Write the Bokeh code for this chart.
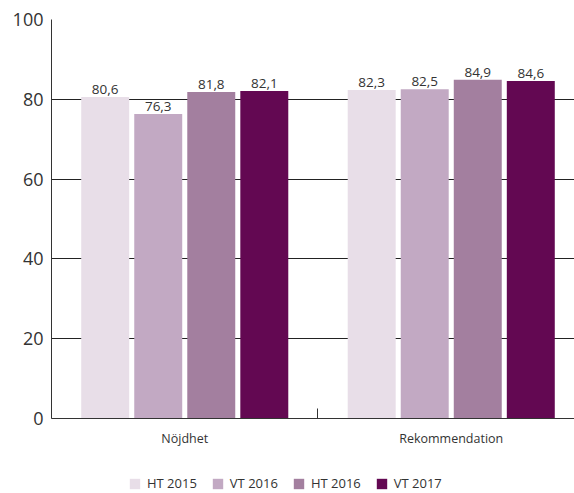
import numpy as np
from bokeh.plotting import figure
from bokeh.models import ColumnDataSource, Range1d, FixedTicker, Legend, LegendItem
from bokeh.embed import file_html
from bokeh.resources import INLINE
from bokeh.core.properties import value

# ---- data ----
categories = ["Nöjdhet", "Rekommendation"]
periods = ["HT 2015", "VT 2016", "HT 2016", "VT 2017"]
ht2015 = [80.6, 82.3]
vt2016 = [76.3, 82.5]
ht2016 = [81.8, 84.9]
vt2017 = [82.1, 84.6]
series = [ht2015, vt2016, ht2016, vt2017]
y_ticks = [0, 20, 40, 60, 80, 100]

# ---- style ----
bar_colors = ["#E8DEE8", "#C2A9C3", "#A37F9F", "#630852"]
FONT = "Open Sans"
TXT = "#333333"

H = 493
TOP = 19
ZERO_PX = 418                      # pixel row of value 0
px_per_unit = (ZERO_PX - TOP) / 100.0
y_start = -(H - ZERO_PX) / px_per_unit

p = figure(width=574, height=H, output_backend="svg", toolbar_location=None,
           x_range=Range1d(0, 1.9625), y_range=Range1d(y_start, 100),
           min_border_left=51, min_border_right=0, min_border_top=TOP,
           min_border_bottom=0)
p.outline_line_color = None
p.background_fill_color = "white"
p.border_fill_color = "white"

centers = np.arange(len(categories)) + 0.5
step = 0.199
bar_w = 0.18
items = []
for i, (name, vals) in enumerate(zip(periods, series)):
    off = (i - (len(periods) - 1) / 2) * step
    src = ColumnDataSource(dict(
        x=centers + off, top=vals,
        label=[f"{v:.1f}".replace(".", ",") for v in vals]))
    r = p.vbar(x="x", top="top", bottom=0, width=bar_w, source=src,
               fill_color=bar_colors[i], line_color=None)
    p.text(x="x", y="top", text="label", source=src, text_align="center",
           text_baseline="bottom", y_offset=-3, text_font=value(FONT),
           text_font_size="13.5px", text_color=TXT)
    items.append(LegendItem(label=name, renderers=[r]))

# ---- x axis (sits on value 0) ----
xa = p.xaxis[0]
xa.fixed_location = 0
xa.ticker = FixedTicker(ticks=list(centers),
                        minor_ticks=list(range(len(categories) + 1)))
xa.major_label_overrides = {float(c): n for c, n in zip(centers, categories)}
xa.major_tick_in = 0
xa.major_tick_out = 0
xa.major_tick_line_color = None
xa.minor_tick_in = 10
xa.minor_tick_out = 0
xa.minor_tick_line_color = "#333333"
xa.axis_line_color = "#333333"
xa.major_label_standoff = 11
xa.major_label_text_font = FONT
xa.major_label_text_font_size = "12.5px"
xa.major_label_text_color = TXT

# ---- y axis ----
ya = p.yaxis[0]
ya.bounds = (0, 100)
ya.ticker = FixedTicker(ticks=y_ticks)
ya.major_tick_in = 0
ya.major_tick_out = 0
ya.minor_tick_line_color = None
ya.axis_line_color = "#333333"
ya.major_label_standoff = 8
ya.major_label_text_font = FONT
ya.major_label_text_font_size = "18px"
ya.major_label_text_color = TXT

p.xgrid.grid_line_color = None
p.ygrid.ticker = FixedTicker(ticks=y_ticks)
p.ygrid.grid_line_color = "#222222"
p.ygrid.grid_line_width = 1

legend = Legend(items=items, orientation="horizontal",
                location=(77, 1), padding=0, margin=0, spacing=14,
                glyph_width=13, glyph_height=13, label_standoff=6,
                label_height=13, label_text_font=FONT,
                label_text_font_size="13px", label_text_color=TXT,
                background_fill_alpha=0, border_line_color=None)
p.add_layout(legend)

open("out.html", "w").write(file_html(p, INLINE))
